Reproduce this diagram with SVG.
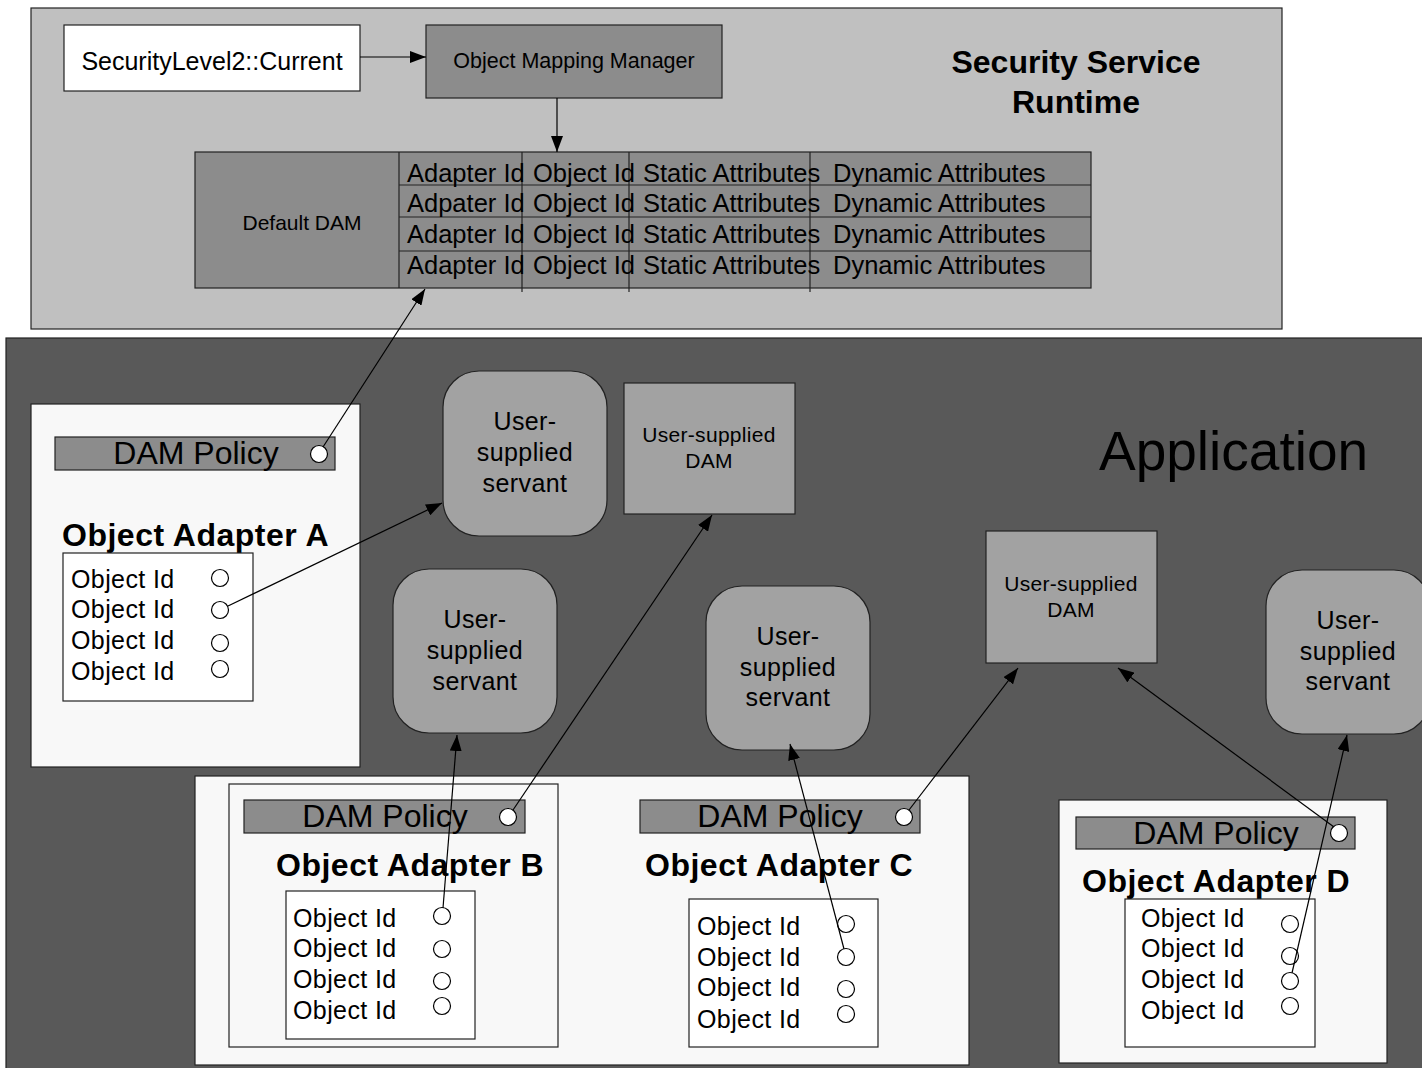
<svg xmlns="http://www.w3.org/2000/svg" width="1422" height="1068" viewBox="0 0 1422 1068">
<style>
text{font-family:"Liberation Sans",Arial,sans-serif;fill:#000}
.frame{stroke:#222;stroke-width:1.2}
.dark{fill:#8c8c8c;stroke:#222;stroke-width:1.2}
.mid{fill:#a2a2a2;stroke:#222;stroke-width:1.2}
.light{fill:#f8f8f8;stroke:#222;stroke-width:1.2}
.white{fill:#fff;stroke:#222;stroke-width:1.2}
.hole{fill:#fff;stroke:#000;stroke-width:1.2}
.tbl{font-size:25.5px}
.oid{font-size:25px;letter-spacing:0.4px}
.pol{font-size:32px;text-anchor:middle}
.oa{font-size:32px;font-weight:bold;letter-spacing:0.5px}
.srv{font-size:25px;text-anchor:middle;letter-spacing:0.4px}
.dam{font-size:21px;text-anchor:middle;letter-spacing:0.3px}
.conn line{stroke:#000;stroke-width:1.2;marker-end:url(#ah)}
</style>
<defs>
<marker id="ah" markerUnits="userSpaceOnUse" markerWidth="17" markerHeight="12" refX="16" refY="6" orient="auto">
<path d="M0,0 L16,6 L0,12 Z" fill="#000"/>
</marker>
</defs>
<rect width="1422" height="1068" fill="#fff"/>

<g id="runtime">
<rect x="31" y="8" width="1251" height="321" fill="#c0c0c0" class="frame"/>
<text x="1076" y="73" font-size="32" font-weight="bold" text-anchor="middle">Security Service</text>
<text x="1076" y="113" font-size="32" font-weight="bold" text-anchor="middle">Runtime</text>
</g>

<g id="current">
<rect x="64" y="25" width="296" height="66" class="white"/>
<text x="212" y="70" font-size="25" text-anchor="middle">SecurityLevel2::Current</text>
</g>

<g id="omm">
<rect x="426" y="25" width="296" height="73" class="dark"/>
<text x="574" y="68" font-size="21.5" text-anchor="middle">Object Mapping Manager</text>
</g>

<g id="default-dam">
<rect x="195" y="152" width="896" height="136" class="dark"/>
<line x1="399" y1="152" x2="399" y2="288" stroke="#222" stroke-width="1.2"/>
<line x1="399" y1="185" x2="1091" y2="185" stroke="#222" stroke-width="1.2"/>
<line x1="399" y1="217" x2="1091" y2="217" stroke="#222" stroke-width="1.2"/>
<line x1="399" y1="251" x2="1091" y2="251" stroke="#222" stroke-width="1.2"/>
<line x1="522" y1="152" x2="522" y2="292" stroke="#222" stroke-width="1.2"/>
<line x1="629" y1="152" x2="629" y2="292" stroke="#222" stroke-width="1.2"/>
<line x1="810" y1="152" x2="810" y2="292" stroke="#222" stroke-width="1.2"/>
<text x="302" y="230" font-size="21" text-anchor="middle">Default DAM</text>
<text class="tbl" x="407" y="182">Adapter Id</text>
<text class="tbl" x="533" y="182">Object Id</text>
<text class="tbl" x="643" y="182">Static Attributes</text>
<text class="tbl" x="833" y="182">Dynamic Attributes</text>
<text class="tbl" x="407" y="212">Adpater Id</text>
<text class="tbl" x="533" y="212">Object Id</text>
<text class="tbl" x="643" y="212">Static Attributes</text>
<text class="tbl" x="833" y="212">Dynamic Attributes</text>
<text class="tbl" x="407" y="243">Adapter Id</text>
<text class="tbl" x="533" y="243">Object Id</text>
<text class="tbl" x="643" y="243">Static Attributes</text>
<text class="tbl" x="833" y="243">Dynamic Attributes</text>
<text class="tbl" x="407" y="274">Adapter Id</text>
<text class="tbl" x="533" y="274">Object Id</text>
<text class="tbl" x="643" y="274">Static Attributes</text>
<text class="tbl" x="833" y="274">Dynamic Attributes</text>
</g>

<g id="application">
<rect x="6" y="338" width="1430" height="740" fill="#595959" class="frame"/>
<text x="1099" y="470" font-size="55">Application</text>
</g>

<g id="adapter-a">
<rect x="31" y="404" width="329" height="363" class="light"/>
<rect x="55" y="437" width="280" height="33" class="dark"/>
<text class="pol" x="196" y="464">DAM Policy</text>
<circle cx="319" cy="454" r="8.5" class="hole"/>
<text class="oa" x="62" y="546">Object Adapter A</text>
<rect x="63" y="553" width="190" height="148" class="white"/>
<text class="oid" x="71" y="588">Object Id</text>
<text class="oid" x="71" y="618">Object Id</text>
<text class="oid" x="71" y="649">Object Id</text>
<text class="oid" x="71" y="680">Object Id</text>
<circle cx="220" cy="578" r="8.5" class="hole"/>
<circle cx="220" cy="610" r="8.5" class="hole"/>
<circle cx="220" cy="643" r="8.5" class="hole"/>
<circle cx="220" cy="669" r="8.5" class="hole"/>
</g>

<g id="servant-1">
<rect x="443" y="371" width="164" height="165" rx="36" class="mid"/>
<text class="srv" x="525" y="430">User-</text>
<text class="srv" x="525" y="461">supplied</text>
<text class="srv" x="525" y="492">servant</text>
</g>

<g id="dam-1">
<rect x="624" y="383" width="171" height="131" class="mid"/>
<text class="dam" x="709" y="442">User-supplied</text>
<text class="dam" x="709" y="468">DAM</text>
</g>

<g id="servant-2">
<rect x="393" y="569" width="164" height="164" rx="36" class="mid"/>
<text class="srv" x="475" y="628">User-</text>
<text class="srv" x="475" y="659">supplied</text>
<text class="srv" x="475" y="690">servant</text>
</g>

<g id="servant-3">
<rect x="706" y="586" width="164" height="164" rx="36" class="mid"/>
<text class="srv" x="788" y="645">User-</text>
<text class="srv" x="788" y="676">supplied</text>
<text class="srv" x="788" y="706">servant</text>
</g>

<g id="dam-2">
<rect x="986" y="531" width="171" height="132" class="mid"/>
<text class="dam" x="1071" y="591">User-supplied</text>
<text class="dam" x="1071" y="617">DAM</text>
</g>

<g id="servant-4">
<rect x="1266" y="570" width="164" height="164" rx="36" class="mid"/>
<text class="srv" x="1348" y="629">User-</text>
<text class="srv" x="1348" y="660">supplied</text>
<text class="srv" x="1348" y="690">servant</text>
</g>

<g id="adapters-bc">
<rect x="195" y="776" width="774" height="289" class="light"/>
</g>

<g id="adapter-b">
<rect x="229" y="784" width="329" height="263" class="light"/>
<rect x="244" y="800" width="281" height="33" class="dark"/>
<text class="pol" x="385" y="827">DAM Policy</text>
<circle cx="508" cy="817" r="8.5" class="hole"/>
<text class="oa" x="276" y="876">Object Adapter B</text>
<rect x="286" y="891" width="189" height="148" class="white"/>
<text class="oid" x="293" y="927">Object Id</text>
<text class="oid" x="293" y="957">Object Id</text>
<text class="oid" x="293" y="988">Object Id</text>
<text class="oid" x="293" y="1019">Object Id</text>
<circle cx="442" cy="916" r="8.5" class="hole"/>
<circle cx="442" cy="949" r="8.5" class="hole"/>
<circle cx="442" cy="981" r="8.5" class="hole"/>
<circle cx="442" cy="1006" r="8.5" class="hole"/>
</g>

<g id="adapter-c">
<rect x="640" y="800" width="280" height="33" class="dark"/>
<text class="pol" x="780" y="827">DAM Policy</text>
<circle cx="904" cy="817" r="8.5" class="hole"/>
<text class="oa" x="645" y="876">Object Adapter C</text>
<rect x="689" y="899" width="189" height="148" class="white"/>
<text class="oid" x="697" y="935">Object Id</text>
<text class="oid" x="697" y="966">Object Id</text>
<text class="oid" x="697" y="996">Object Id</text>
<text class="oid" x="697" y="1028">Object Id</text>
<circle cx="846" cy="924" r="8.5" class="hole"/>
<circle cx="846" cy="957" r="8.5" class="hole"/>
<circle cx="846" cy="989" r="8.5" class="hole"/>
<circle cx="846" cy="1014" r="8.5" class="hole"/>
</g>

<g id="adapter-d">
<rect x="1059" y="800" width="328" height="263" class="light"/>
<rect x="1076" y="817" width="279" height="32" class="dark"/>
<text class="pol" x="1216" y="844">DAM Policy</text>
<circle cx="1339" cy="833" r="8.5" class="hole"/>
<text class="oa" x="1082" y="892">Object Adapter D</text>
<rect x="1125" y="899" width="190" height="148" class="white"/>
<text class="oid" x="1141" y="927">Object Id</text>
<text class="oid" x="1141" y="957">Object Id</text>
<text class="oid" x="1141" y="988">Object Id</text>
<text class="oid" x="1141" y="1019">Object Id</text>
<circle cx="1290" cy="924" r="8.5" class="hole"/>
<circle cx="1290" cy="956" r="8.5" class="hole"/>
<circle cx="1290" cy="981" r="8.5" class="hole"/>
<circle cx="1290" cy="1006" r="8.5" class="hole"/>
</g>

<g id="connectors" class="conn">
<line x1="360" y1="57" x2="426" y2="57"/>
<line x1="557" y1="98" x2="557" y2="152"/>
<line x1="323" y1="447" x2="425" y2="289"/>
<line x1="228" y1="606" x2="442" y2="503"/>
<line x1="443" y1="908" x2="457" y2="735"/>
<line x1="513" y1="810" x2="712" y2="515"/>
<line x1="844" y1="949" x2="790" y2="744"/>
<line x1="909" y1="810" x2="1018" y2="668"/>
<line x1="1334" y1="827" x2="1118" y2="668"/>
<line x1="1292" y1="973" x2="1347" y2="735"/>
</g>
</svg>
